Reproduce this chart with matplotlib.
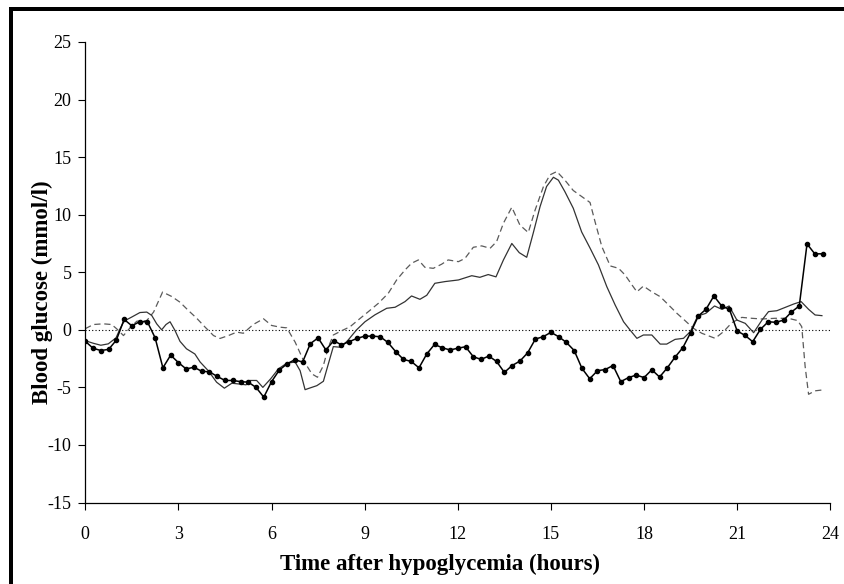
import matplotlib
matplotlib.use("Agg")
import matplotlib.pyplot as plt
import numpy as np
from matplotlib.patches import Rectangle

plt.rcParams["font.family"] = ["Liberation Serif", "DejaVu Serif"]
plt.rcParams["axes.unicode_minus"] = False

# series with markers: sampled every 15 min from 0 to 23.75 h
dots_t = np.arange(0, 24, 0.25)
dots_v = [
    -1.0, -1.6, -1.8, -1.7, -0.9, 0.9, 0.35, 0.7, 0.7, -0.7, -3.3, -2.2,
    -2.85, -3.4, -3.25, -3.6, -3.65, -4.05, -4.4, -4.4, -4.5, -4.55, -5.0, -5.85,
    -4.5, -3.5, -2.95, -2.6, -2.8, -1.2, -0.7, -1.75, -0.95, -1.3, -1.03, -0.75,
    -0.55, -0.55, -0.6, -1.1, -1.9, -2.57, -2.75, -3.3, -2.1, -1.27, -1.56, -1.75,
    -1.6, -1.47, -2.34, -2.57, -2.28, -2.75, -3.7, -3.1, -2.72, -2.0, -0.8, -0.6,
    -0.22, -0.6, -1.1, -1.8, -3.35, -4.25, -3.55, -3.45, -3.1, -4.5, -4.15, -3.93,
    -4.15, -3.47, -4.1, -3.3, -2.37, -1.55, -0.25, 1.2, 1.8, 2.94, 2.07, 1.78,
    -0.1, -0.48, -1.03, 0.04, 0.7, 0.65, 0.85, 1.55, 2.07, 7.46, 6.6, 6.6,
]

solid_t = [
    0, 0.26, 0.5, 0.74, 0.99, 1.12, 1.25, 1.49, 1.76, 1.98, 2.14, 2.3, 2.46, 2.6,
    2.73, 2.89, 3.05, 3.26, 3.53, 3.7, 3.96, 4.23, 4.48, 4.72, 4.93, 5.18, 5.3,
    5.52, 5.72, 5.97, 6.22, 6.49, 6.76, 6.92, 7.08, 7.24, 7.46, 7.67, 7.83, 7.99,
    8.24, 8.47, 8.74, 9.01, 9.33, 9.71, 9.98, 10.3, 10.51, 10.78, 11.0, 11.26,
    11.59, 12.02, 12.45, 12.71, 12.98, 13.23, 13.47, 13.74, 13.98, 14.22, 14.43,
    14.65, 14.86, 15.08, 15.24, 15.45, 15.72, 15.99, 16.26, 16.53, 16.8, 17.07,
    17.34, 17.55, 17.77, 17.98, 18.25, 18.52, 18.73, 19.0, 19.27, 19.49, 19.73,
    19.99, 20.27, 20.51, 20.74, 20.99, 21.26, 21.53, 21.8, 22.01, 22.28, 22.55,
    22.82, 23.06, 23.3, 23.51, 23.73,
]
solid_v = [
    -0.95, -1.17, -1.34, -1.22, -0.7, 0.09, 0.76, 1.1, 1.5, 1.54, 1.25, 0.52, 0.0,
    0.46, 0.7, -0.06, -1.0, -1.65, -2.1, -2.8, -3.55, -4.55, -5.07, -4.64, -4.7,
    -4.78, -4.4, -4.4, -5.0, -4.26, -3.4, -2.9, -2.8, -3.55, -5.2, -5.05, -4.85,
    -4.47, -2.96, -1.46, -1.52, -0.88, 0.0, 0.7, 1.3, 1.87, 1.96, 2.45, 2.94,
    2.65, 3.0, 4.04, 4.19, 4.33, 4.7, 4.56, 4.8, 4.6, 6.07, 7.5, 6.7, 6.3, 8.4,
    10.7, 12.45, 13.25, 13.0, 12.0, 10.56, 8.5, 7.1, 5.64, 3.75, 2.15, 0.7, -0.02,
    -0.74, -0.45, -0.45, -1.24, -1.24, -0.83, -0.74, -0.16, 1.2, 1.43, 2.07, 1.78,
    2.07, 0.85, 0.56, -0.25, 0.85, 1.58, 1.66, 1.95, 2.24, 2.45, 1.78, 1.29, 1.23,
]

dash_t = [
    0, 0.26, 0.58, 0.85, 1.01, 1.23, 1.44, 1.66, 1.98, 2.2, 2.49, 2.78, 3.05, 3.32,
    3.59, 3.86, 4.13, 4.34, 4.61, 4.88, 5.09, 5.41, 5.74, 6.0, 6.27, 6.49, 6.76,
    7.03, 7.3, 7.48, 7.67, 7.83, 7.99, 8.26, 8.53, 8.79, 9.12, 9.44, 9.76, 10.03,
    10.3, 10.51, 10.73, 10.94, 11.21, 11.48, 11.69, 12.02, 12.23, 12.5, 12.77,
    13.04, 13.25, 13.47, 13.74, 14.0, 14.27, 14.49, 14.76, 14.97, 15.19, 15.45,
    15.72, 15.99, 16.26, 16.42, 16.64, 16.91, 17.18, 17.39, 17.61, 17.77, 17.98,
    18.25, 18.52, 18.79, 19.06, 19.32, 19.59, 19.86, 20.29, 20.56, 20.83, 21.15,
    21.47, 21.8, 22.22, 22.65, 22.95, 23.08, 23.19, 23.3, 23.51, 23.73,
]
dash_v = [
    0.1, 0.46, 0.52, 0.46, 0.09, -0.5, 0.17, 0.75, 0.8, 1.54, 3.28, 2.9, 2.4, 1.68,
    1.0, 0.23, -0.5, -0.75, -0.5, -0.2, -0.3, 0.46, 0.96, 0.38, 0.23, 0.17, -1.07,
    -2.67, -3.83, -4.12, -3.1, -1.5, -0.45, -0.08, 0.27, 0.85, 1.58, 2.3, 3.17,
    4.33, 5.2, 5.78, 6.07, 5.43, 5.34, 5.7, 6.07, 5.92, 6.2, 7.17, 7.29, 7.08,
    7.66, 9.26, 10.65, 9.1, 8.45, 10.4, 12.45, 13.46, 13.75, 13.0, 12.1, 11.58,
    11.06, 9.4, 7.23, 5.55, 5.34, 4.76, 3.9, 3.3, 3.8, 3.3, 2.88, 2.16, 1.43, 0.8,
    0.13, -0.3, -0.74, -0.16, 0.62, 1.08, 1.0, 0.94, 1.0, 1.0, 0.8, 0.27, -3.2,
    -5.6, -5.3, -5.23,
]

x_ticks = [0, 3, 6, 9, 12, 15, 18, 21, 24]
y_ticks = [-15, -10, -5, 0, 5, 10, 15, 20, 25]

W, H = 844, 584
fig = plt.figure(figsize=(W / 100, H / 100), dpi=100)
ax = fig.add_axes([85.3 / W, 1 - 502.5 / H, 745.0 / W, 460.5 / H])

ax.plot([0, 24], [0, 0], color="black", lw=0.8, linestyle=(0, (1, 2)))
ax.plot(dash_t, dash_v, color="#5a5a5a", lw=0.9, linestyle=(0, (5, 3)))
ax.plot(solid_t, solid_v, color="#333333", lw=0.9)
ax.plot(dots_t, dots_v, color="black", lw=1.1, marker="o", markersize=3)

ax.set_xlim(0, 24)
ax.set_ylim(-15, 25)
ax.set_xticks(x_ticks)
ax.set_yticks(y_ticks)
ax.spines["top"].set_visible(False)
ax.spines["right"].set_visible(False)
for side in ("left", "bottom"):
    ax.spines[side].set_linewidth(0.9)
ax.tick_params(axis="y", direction="out", length=5, width=0.8, pad=5, labelsize=13)
ax.tick_params(axis="x", direction="out", length=5, width=0.8, pad=12, labelsize=13)

ax.set_xlabel("Time after hypoglycemia (hours)", fontsize=16.5, fontweight="bold")
ax.set_ylabel("Blood glucose (mmol/l)", fontsize=16.5, fontweight="bold")
ax.xaxis.set_label_coords(0.476, (502.5 - 554) / 460.5)
ax.yaxis.set_label_coords((53 - 85.3) / 745, (502.5 - 292) / 460.5)

# black frame along the top and left edges of the picture
fig.add_artist(Rectangle((9 / W, 0), 4 / W, 1 - 7 / H, transform=fig.transFigure,
                         color="black", lw=0))
fig.add_artist(Rectangle((9 / W, 1 - 11 / H), 1, 4 / H, transform=fig.transFigure,
                         color="black", lw=0))

fig.savefig("out.png", dpi=100)
